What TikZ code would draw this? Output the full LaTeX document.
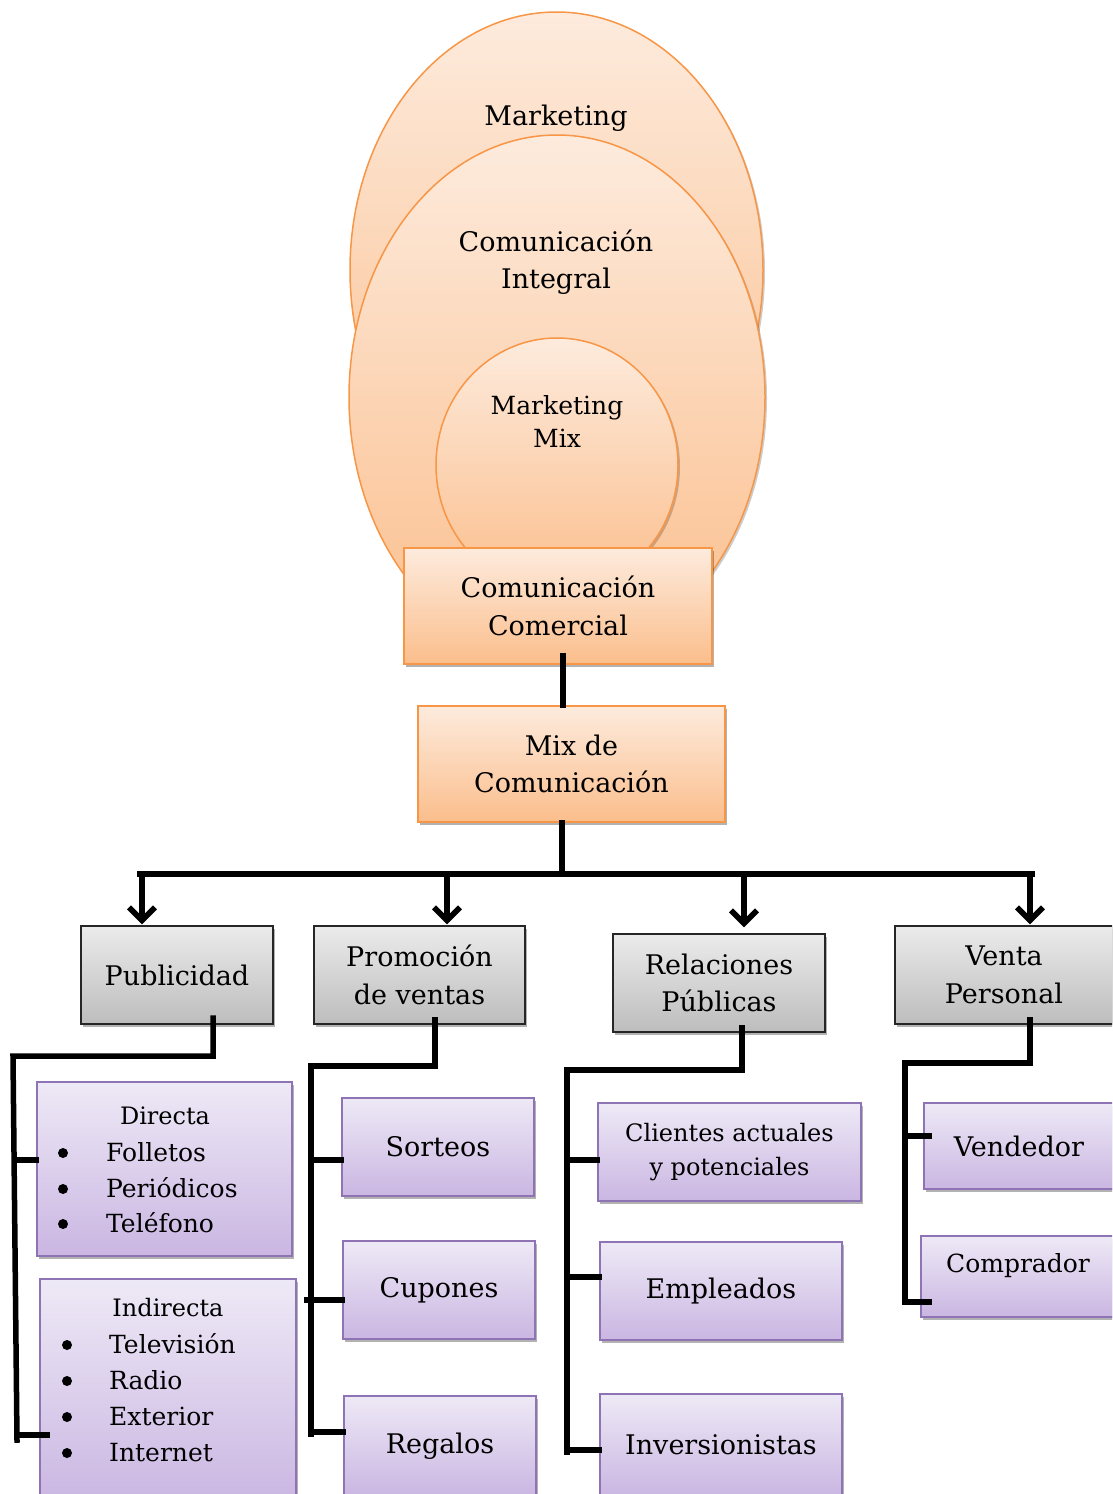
\documentclass[tikz,border=0pt]{standalone}
\usepackage{fontspec}
\setmainfont{DejaVu Serif}
\usetikzlibrary{arrows.meta,shadows,calc}
\definecolor{orgtop}{HTML}{FDEBDD}
\definecolor{orgbot}{HTML}{FBBE8C}
\definecolor{orgbd}{HTML}{F79646}
\definecolor{grytop}{HTML}{EBEBEB}
\definecolor{grybot}{HTML}{BDBDBD}
\definecolor{purtop}{HTML}{EEE9F6}
\definecolor{purbot}{HTML}{CAB6E2}
\definecolor{purbd}{HTML}{8F74B5}
\newcommand\fsA{\fontsize{27}{37.5}\selectfont}
\newcommand\fsB{\fontsize{25}{36}\selectfont}
\newcommand\fsC{\fontsize{24}{34}\selectfont}
\tikzset{
 shd/.style={drop shadow={shadow xshift=2pt,shadow yshift=-3pt,opacity=.3,fill=black}},
 eshd/.style={drop shadow={shadow xshift=2pt,shadow yshift=-2pt,opacity=.2,fill=black}},
 ell/.style={draw=orgbd,line width=1.5pt,top color=orgtop,bottom color=orgbot,eshd},
 obox/.style={rectangle,draw=orgbd,line width=1.5pt,top color=orgtop,bottom color=orgbot,shd,align=center,font=\fsA,inner sep=0pt},
 gbox/.style={rectangle,draw=black!85,line width=1.5pt,top color=grytop,bottom color=grybot,shd,align=center,font=\fsA,inner sep=0pt},
 pbox/.style={rectangle,draw=purbd,line width=1.5pt,top color=purtop,bottom color=purbot,shd,align=center,font=\fsA,inner sep=0pt},
 txt/.style={align=center,font=\fsA,inner sep=0pt},
 item/.style={anchor=west,font=\fsB,inner sep=0pt,text height=18pt,text depth=0pt},
 bul/.style={circle,fill=black,minimum size=10pt,inner sep=0pt},
 conn/.style={line width=5.5pt,line join=miter,line cap=rect},
 arr/.style={line width=5.5pt,-{Straight Barb[length=13pt,width=26pt]}},
}
\begin{document}
\begin{tikzpicture}[x=1pt,y=-1pt]
\useasboundingbox (0,0) rectangle (1112,1494);
\clip (0,0) rectangle (1112,1494);
% ellipses
\path[ell] (556.5,270) ellipse [x radius=206.5, y radius=258];
\path[ell] (557,397) ellipse [x radius=208, y radius=262];
\path[ell] (557,465) ellipse [x radius=121, y radius=127];
\node[txt] (tmk) at (556,118) {Marketing};
\node[txt] (tci) at (556,262) {Comunicación\\Integral};
\node[txt,font=\fontsize{25}{33}\selectfont] (tmm) at (557,421) {Marketing\\Mix};
% top boxes
\node[obox,minimum width=308pt,minimum height=116pt] (cc) at (558,606) {Comunicación\\Comercial};
\node[obox,minimum width=307pt,minimum height=116pt] (mix) at (571.5,764) {Mix de\\Comunicación};
% gray boxes
\node[gbox,minimum width=192pt,minimum height=98pt] (pub) at (177,975) {Publicidad};
\node[gbox,minimum width=211pt,minimum height=98pt] (pro) at (419.5,975) {Promoción\\de ventas};
\node[gbox,minimum width=212pt,minimum height=98pt] (rel) at (719,983) {Relaciones\\Públicas};
\node[gbox,minimum width=218pt,minimum height=98pt] (ven) at (1004,975) {Venta\\Personal};
% purple boxes
\node[pbox,minimum width=255pt,minimum height=174pt] (dir) at (164.5,1169) {};
\node[txt,font=\fsC] (tdir) at (165,1116) {Directa};
\node[bul] (b1) at (63,1153) {};
\node[bul] (b2) at (63,1189) {};
\node[bul] (b3) at (63,1224) {};
\node[item] (i1) at (106,1152) {Folletos};
\node[item] (i2) at (106,1188) {Periódicos};
\node[item] (i3) at (106,1223) {Teléfono};
\node[pbox,minimum width=256pt,minimum height=226pt] (ind) at (168,1392) {};
\node[txt,font=\fsC] (tind) at (168,1308) {Indirecta};
\node[bul] (b4) at (67,1345) {};
\node[bul] (b5) at (67,1381) {};
\node[bul] (b6) at (67,1417) {};
\node[bul] (b7) at (67,1453) {};
\node[item] (i4) at (109,1344) {Televisión};
\node[item] (i5) at (109,1380) {Radio};
\node[item] (i6) at (109,1416) {Exterior};
\node[item] (i7) at (109,1452) {Internet};
\node[pbox,minimum width=192pt,minimum height=98pt] (sor) at (438,1147) {Sorteos};
\node[pbox,minimum width=192pt,minimum height=98pt] (cup) at (439,1290) {Cupones};
\node[pbox,minimum width=192pt,minimum height=100pt] (reg) at (440,1446) {Regalos};
\node[pbox,minimum width=263pt,minimum height=98pt,font=\fsC] (cli) at (729.5,1152) {Clientes actuales\\y potenciales};
\node[pbox,minimum width=242pt,minimum height=98pt] (emp) at (721,1291) {Empleados};
\node[pbox,minimum width=242pt,minimum height=102pt] (inv) at (721,1445) {Inversionistas};
\node[pbox,minimum width=190pt,minimum height=86pt] (vend) at (1019,1146) {Vendedor};
\node[pbox,minimum width=194pt,minimum height=81pt] (comp) at (1018,1276.5) {};
\node[txt,font=\fsB] (tcomp) at (1018,1266) {Comprador};
% top connectors
\coordinate (c0) at (563,656);
\draw[conn] (c0) -- (c0 |- mix.north);
\coordinate (bar) at (562,874);
\coordinate (barL) at (140,874);
\coordinate (barR) at (1032,874);
\draw[conn] (mix.south -| bar) -- (bar);
\draw[conn] (barL) -- (barR);
\coordinate (a1) at (142,874);
\coordinate (a2) at (447,874);
\coordinate (a3) at (744,874);
\coordinate (a4) at (1030,874);
\draw[arr] (a1) -- ($(a1 |- pub.north)+(0,-1)$);
\draw[arr] (a2) -- ($(a2 |- pro.north)+(0,-1)$);
\draw[arr] (a3) -- ($(a3 |- rel.north)+(0,-6)$);
\draw[arr] (a4) -- ($(a4 |- ven.north)+(0,-1)$);
% Publicidad tree
\coordinate (p0) at (213,1018);
\coordinate (p1) at (13,1056);
\coordinate (p2) at (17,1440);
\draw[conn] (p0) |- (p1) -- (p2);
\coordinate (pt1) at (15,1160);
\coordinate (pt2) at (18,1435);
\draw[conn] (pt1) -- (pt1 -| dir.west);
\draw[conn] (pt2) -- ($(pt2 -| ind.west)+(8,0)$);
% Promocion tree
\coordinate (q0) at (435,1020);
\coordinate (q1) at (311,1066);
\coordinate (q2) at (311,1434);
\draw[conn] (q0) |- (q1) -- (q2);
\coordinate (qt1) at (311,1160);
\coordinate (qt2) at (307,1300);
\coordinate (qt3) at (311,1432);
\draw[conn] (qt1) -- (qt1 -| sor.west);
\draw[conn] (qt2) -- (qt2 -| cup.west);
\draw[conn] (qt3) -- (qt3 -| reg.west);
% Relaciones tree
\coordinate (r0) at (742,1028);
\coordinate (r1) at (567,1070);
\coordinate (r2) at (567,1452);
\draw[conn] (r0) |- (r1) -- (r2);
\coordinate (rt1) at (567,1160);
\coordinate (rt2) at (567,1277);
\coordinate (rt3) at (567,1450);
\draw[conn] (rt1) -- (rt1 -| cli.west);
\draw[conn] (rt2) -- (rt2 -| emp.west);
\draw[conn] (rt3) -- (rt3 -| inv.west);
% Venta tree
\coordinate (v0) at (1030,1020);
\coordinate (v1) at (905,1063);
\coordinate (v2) at (905,1302);
\draw[conn] (v0) |- (v1) -- (v2);
\coordinate (vt1) at (908,1136);
\coordinate (vt2) at (905,1302);
\draw[conn] (vt1) -- ($(vt1 -| vend.west)+(6,0)$);
\draw[conn] (vt2) -- ($(vt2 -| comp.west)+(9,0)$);
\end{tikzpicture}
\end{document}
